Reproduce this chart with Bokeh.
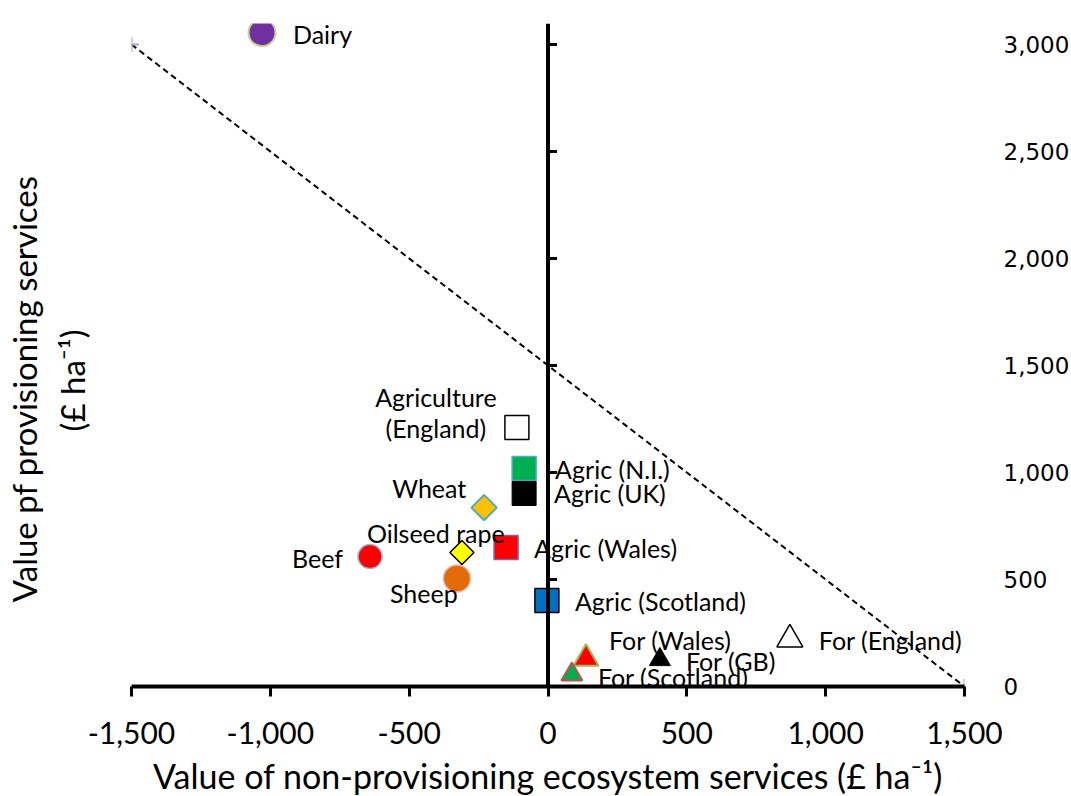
import math
from bokeh.plotting import figure
from bokeh.models import (LinearAxis, Range1d, NumeralTickFormatter, FixedTicker,
                          ColumnDataSource, Span)
from bokeh.core.properties import value
from bokeh.embed import file_html
from bokeh.resources import INLINE

# ---- data ----
names = ["Dairy", "Agriculture\n(England)", "Agric (N.I.)", "Agric (UK)", "Wheat",
         "Oilseed rape", "Agric (Wales)", "Beef", "Sheep", "Agric (Scotland)",
         "For (Wales)", "For (GB)", "For (Scotland)", "For (England)"]
non_prov = [-1030, -112, -86, -86, -230, -310, -151, -641, -328, -4, 137, 403, 86, 871]
prov = [3055, 1210, 1019, 902, 836, 626, 650, 607, 505, 402, 131, 126, 56, 220]

line_x = [-1500, 1500]
line_y = [3000, 0]

x_ticks = [-1500, -1000, -500, 0, 500, 1000, 1500]
y_ticks = [0, 500, 1000, 1500, 2000, 2500, 3000]

x_title = "Value of non-provisioning ecosystem services (£ ha⁻¹)"
y_title_1 = "Value pf provisioning services"
y_title_2 = "(£ ha⁻¹)"

# ---- styles ----
markers = ["circle", "square", "square", "square", "square", "square", "square",
           "circle", "circle", "square", "triangle", "triangle", "triangle", "triangle"]
angles = [0, 0, 0, 0, math.pi / 4, math.pi / 4, 0, 0, 0, 0, 0, 0, 0, 0]
sizes = [27, 24, 24, 24, 18, 17, 24, 24, 27, 24, 25, 21, 21, 26]
fills = ["#7030a0", "#ffffff", "#00b050", "#000000", "#ffc000", "#ffff00", "#ff0000",
         "#ff0000", "#e36c09", "#0070c0", "#ff0000", "#000000", "#00b050", "#ffffff"]
edges = ["#c3d69b", "#000000", "#4bacc6", "#000000", "#4bacc6", "#000000", "#8064a2",
         "#95b3d7", "#e6b9b8", "#000000", "#9bbb59", "#000000", "#c0504d", "#000000"]
edge_w = [2, 1.5, 1.5, 1, 2, 1.5, 1.5, 1.5, 1.5, 1.5, 2, 1, 2, 1.5]
lab_dx = [31, -81, 31, 30, -92, -95, 28, -27, -67, 28, 23, 26, 26, 29]
lab_dy = [1, -15, 1, 0, -20, -20, 1, 1, 15, 1, -18, 1, 2, 1]
lab_align = ["left", "center", "left", "left", "left", "left", "left", "right", "left",
             "left", "left", "left", "left", "left"]

src = ColumnDataSource(dict(x=non_prov, y=prov, name=names, marker=markers, angle=angles,
                            size=sizes, fill=fills, edge=edges, ew=edge_w,
                            dx=lab_dx, dy=lab_dy, align=lab_align))

FONT = "Lato"

p = figure(frame_width=833, frame_height=663, min_border_left=131, min_border_right=104,
           min_border_top=23, min_border_bottom=108,
           x_range=Range1d(-1500, 1500), y_range=Range1d(0, 3098),
           y_axis_location="right", output_backend="svg", toolbar_location=None,
           background_fill_color="white", border_fill_color="white")
p.outline_line_color = None
p.grid.visible = False

# bottom x axis
xa = p.xaxis[0]
xa.ticker = FixedTicker(ticks=x_ticks)
xa.formatter = NumeralTickFormatter(format="0,0")
xa.axis_line_width = 4
xa.axis_line_color = "black"
xa.major_tick_line_width = 3
xa.major_tick_out = 10
xa.major_tick_in = 0
xa.minor_tick_line_color = None
xa.major_label_text_font = FONT
xa.major_label_text_font_size = "30px"
xa.major_label_text_color = "black"
xa.major_label_standoff = 25
xa.axis_label = x_title
xa.axis_label_text_font = FONT
xa.axis_label_text_font_size = "34px"
xa.axis_label_text_font_style = "normal"
xa.axis_label_text_color = "black"
xa.axis_label_standoff = 8

# right y axis (labels only)
ya = p.yaxis[0]
ya.ticker = FixedTicker(ticks=y_ticks)
ya.formatter = NumeralTickFormatter(format="0,0")
ya.axis_line_color = None
ya.major_tick_line_color = None
ya.minor_tick_line_color = None
ya.major_label_text_font = "DejaVu Sans"
ya.major_label_text_font_size = "23px"
ya.major_label_text_color = "black"
ya.major_label_standoff = 33

# left axis: carries only the title (trailing spaces nudge it down as in the original)
ta = LinearAxis(ticker=FixedTicker(ticks=[]))
ta.axis_line_color = None
ta.major_tick_line_color = None
ta.minor_tick_line_color = None
ta.axis_label = y_title_1 + " " * 8 + "\n" + y_title_2 + " " * 6
ta.axis_label_text_font = FONT
ta.axis_label_text_font_size = "33px"
ta.axis_label_text_font_style = "normal"
ta.axis_label_text_color = "black"
ta.axis_label_standoff = 40
p.add_layout(ta, "left")

# central vertical axis at x = 0 with ticks
p.add_layout(Span(location=0, dimension="height", line_color="black", line_width=4))
p.ray(x=[0] * len(y_ticks), y=y_ticks, length=9, length_units="screen", angle=0,
      line_color="black", line_width=3)

# dashed line with end markers
p.line(line_x, line_y, line_color="black", line_width=2, line_dash="6 4")
p.scatter(line_x, line_y, marker="cross", size=15, line_color="#aaa3cf", line_width=2)

# points
p.scatter(x="x", y="y", source=src, marker="marker", angle="angle", size="size",
          fill_color="fill", line_color="edge", line_width="ew")

# point labels
p.text(x="x", y="y", text="name", source=src, x_offset="dx", y_offset="dy",
       text_align="align", text_baseline="middle", text_font=value(FONT),
       text_font_size="25px", text_color="black", text_line_height=1.05)

open("out.html", "w").write(file_html(p, INLINE))
